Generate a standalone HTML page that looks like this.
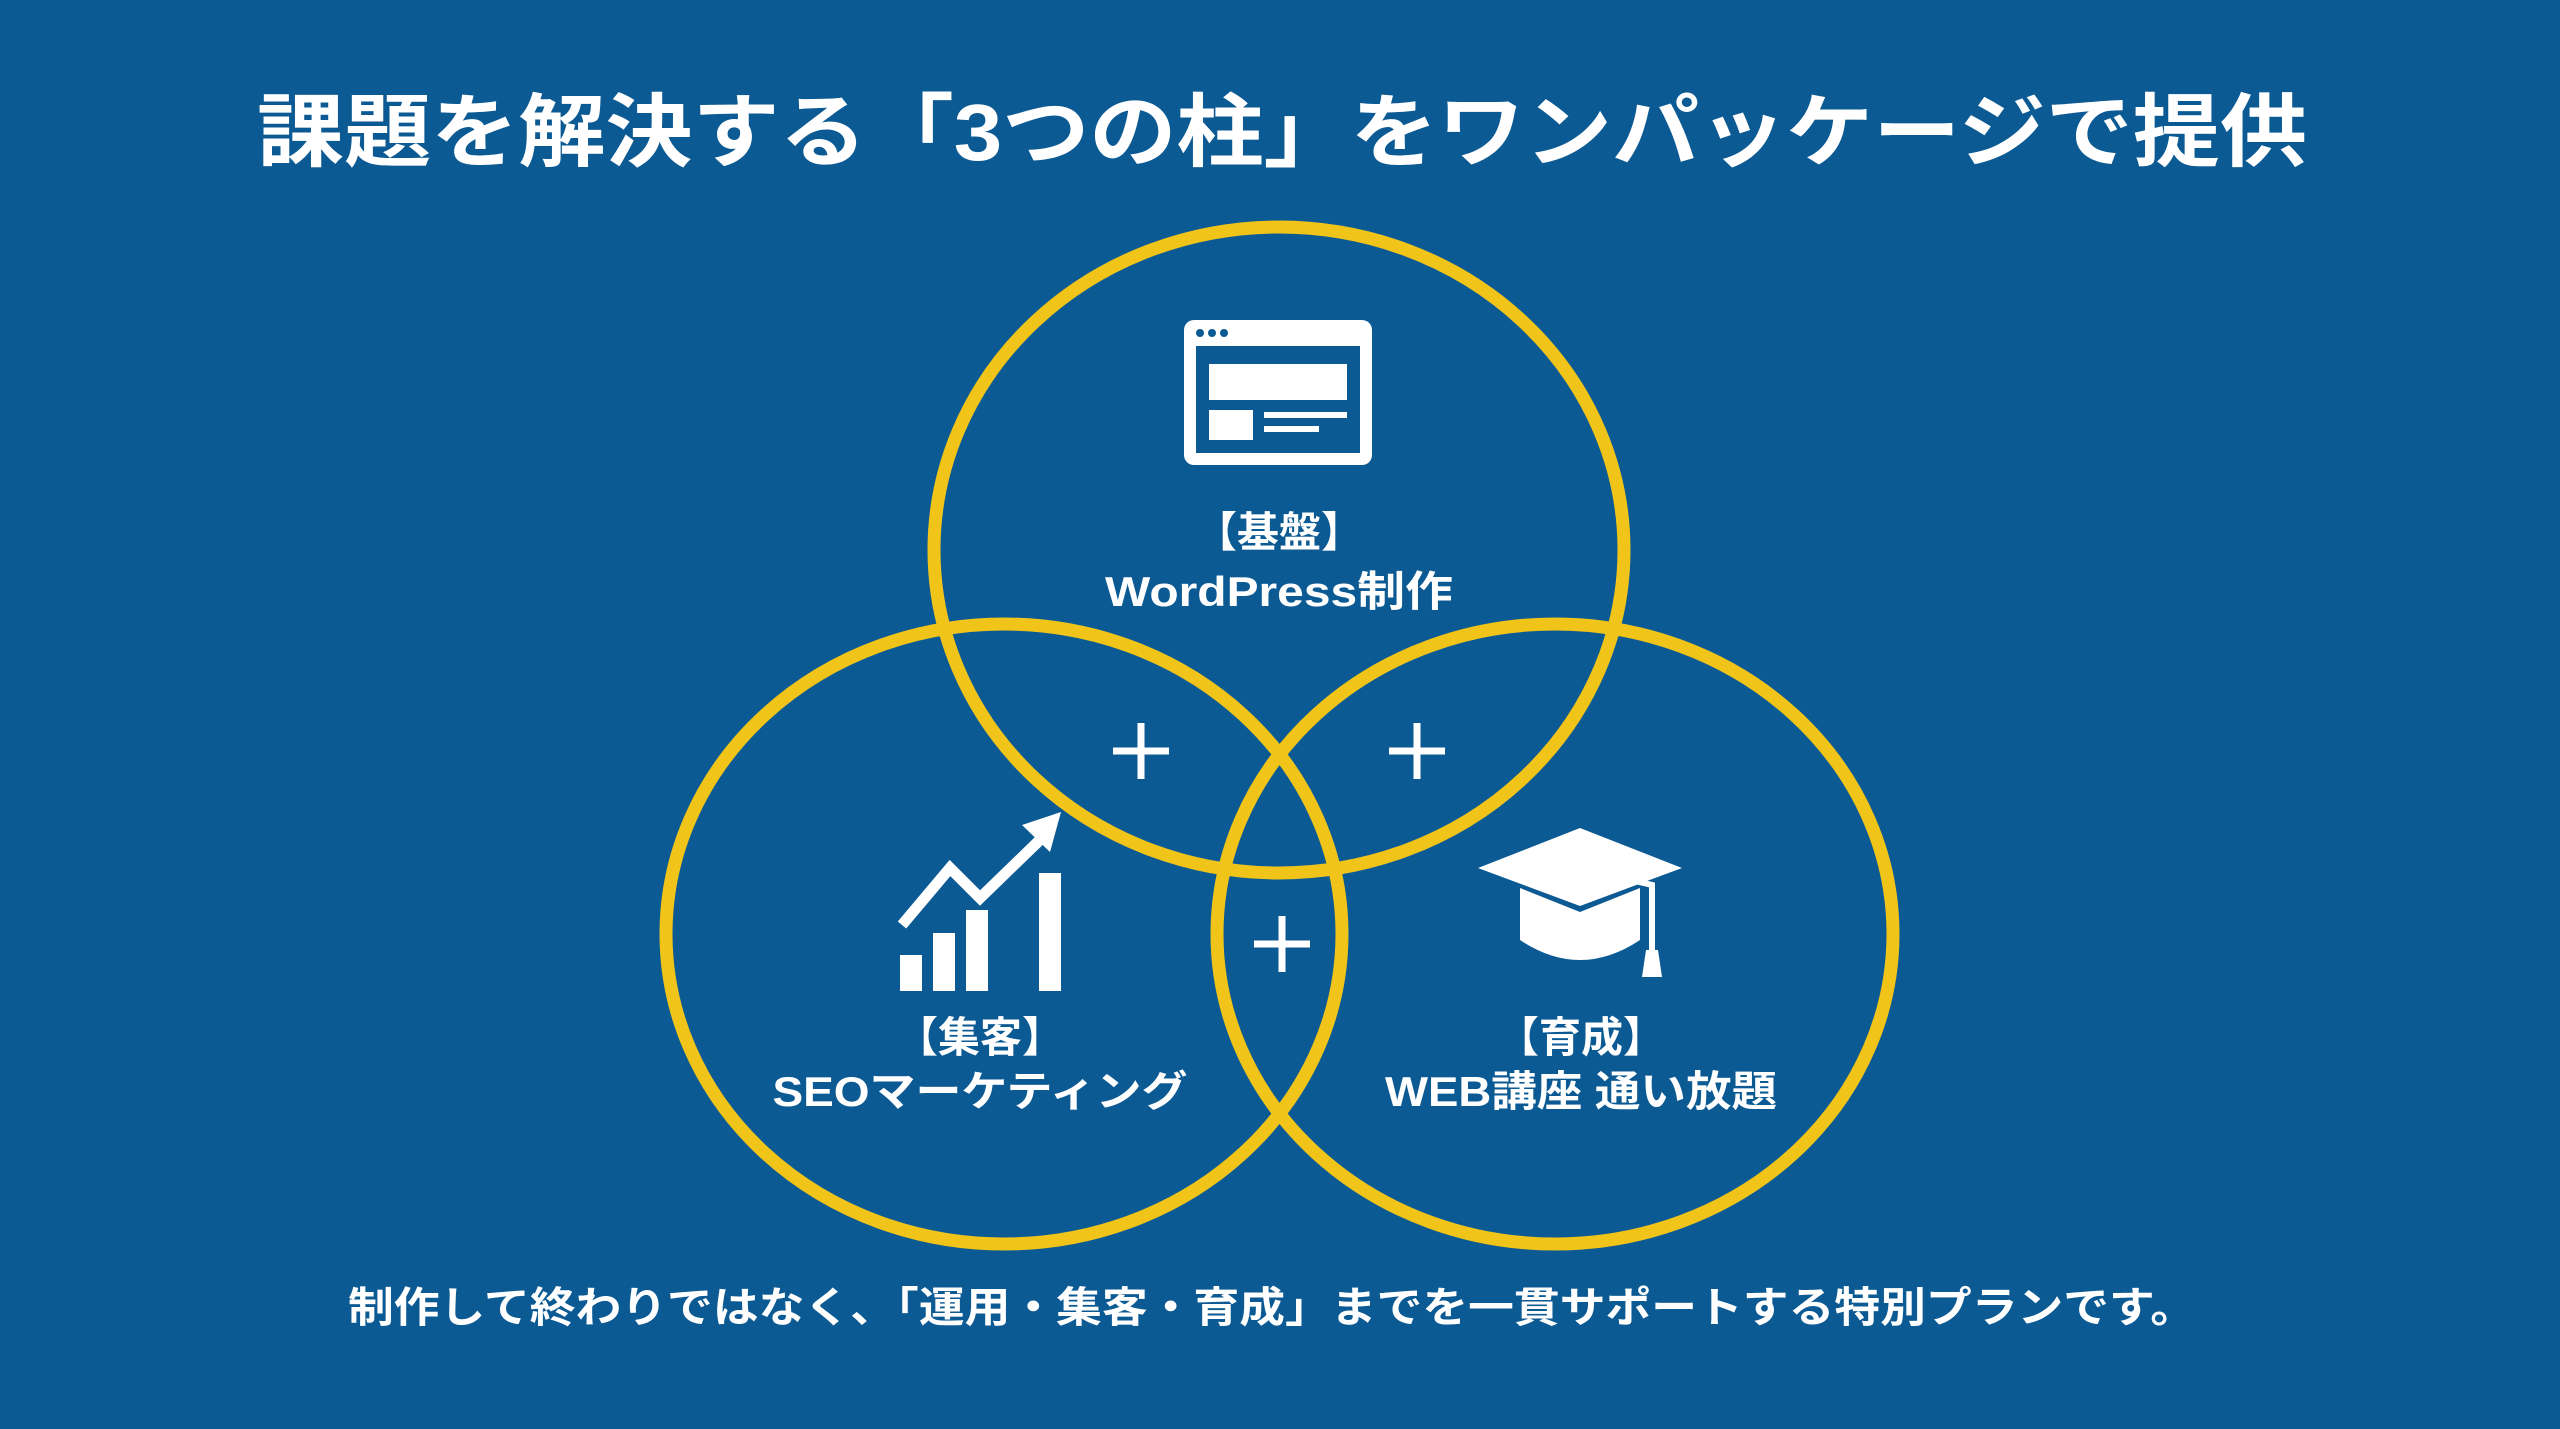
<!DOCTYPE html>
<html><head><meta charset="utf-8"><style>
html,body{margin:0;padding:0;background:#0c5a93;}
svg{display:block}
text{font-family:"Liberation Sans","Noto Sans CJK JP",sans-serif;font-weight:bold;fill:#fff}
</style></head><body>
<svg width="2560" height="1429" viewBox="0 0 2560 1429" xmlns="http://www.w3.org/2000/svg">
<rect width="2560" height="1429" fill="#0c5a93"/>
<text x="1282" y="160" font-size="80" text-anchor="middle" textLength="2050" lengthAdjust="spacingAndGlyphs">課題を解決する「3つの柱」をワンパッケージで提供</text>
<g fill="none" stroke="#f0c419" stroke-width="13">
<ellipse cx="1279" cy="550" rx="345" ry="323"/>
<ellipse cx="1004" cy="934" rx="338" ry="310"/>
<ellipse cx="1555" cy="934" rx="338" ry="310"/>
</g>
<!-- browser icon -->
<g>
<rect x="1184" y="320" width="188" height="145" rx="10" fill="#fff"/>
<rect x="1196" y="346" width="164" height="107" fill="#0c5a93"/>
<circle cx="1200" cy="333" r="4" fill="#0c5a93"/><circle cx="1212" cy="333" r="4" fill="#0c5a93"/><circle cx="1224" cy="333" r="4" fill="#0c5a93"/>
<rect x="1209" y="364" width="138" height="36" fill="#fff"/>
<rect x="1209" y="410" width="44" height="30" fill="#fff"/>
<rect x="1264" y="412" width="83" height="6" fill="#fff"/>
<rect x="1264" y="426" width="55" height="6" fill="#fff"/>
</g>
<!-- chart icon -->
<g fill="#fff">
<rect x="900" y="955" width="22" height="36"/>
<rect x="933" y="933" width="22" height="58"/>
<rect x="966" y="910" width="22" height="81"/>
<rect x="1039" y="873" width="22" height="118"/>
<polyline points="902,925 950,868 980,898 1045,835" fill="none" stroke="#fff" stroke-width="11"/>
<polygon points="1061,812 1022,825 1050,852"/>
</g>
<!-- cap icon -->
<g fill="#fff">
<polygon points="1580,828 1682,868 1580,906 1478,868"/>
<path d="M1520,888 L1520,940 Q1580,980 1640,940 L1640,888 L1580,912 Z"/>
<polyline points="1580,868 1652,885 1652,955" fill="none" stroke="#fff" stroke-width="6"/>
<polygon points="1646,950 1658,950 1662,977 1642,977"/>
</g>
<g font-size="42" text-anchor="middle">
<text x="1279" y="547">【基盤】</text>
<text x="1279" y="606" textLength="348" lengthAdjust="spacingAndGlyphs">WordPress制作</text>
<text x="980" y="1052">【集客】</text>
<text x="980" y="1106" textLength="415" lengthAdjust="spacingAndGlyphs">SEOマーケティング</text>
<text x="1581" y="1052">【育成】</text>
<text x="1581" y="1106" textLength="392" lengthAdjust="spacingAndGlyphs">WEB講座 通い放題</text>
</g>
<g stroke="#fff" stroke-width="7">
<path d="M1141,723 v56 M1113,751 h56"/>
<path d="M1417,723 v56 M1389,751 h56"/>
<path d="M1282,916 v56 M1254,944 h56"/>
</g>
<text x="1272" y="1322" font-size="42" text-anchor="middle" textLength="1848" lengthAdjust="spacingAndGlyphs">制作して終わりではなく、「運用・集客・育成」までを一貫サポートする特別プランです。</text>
</svg>
</body></html>
